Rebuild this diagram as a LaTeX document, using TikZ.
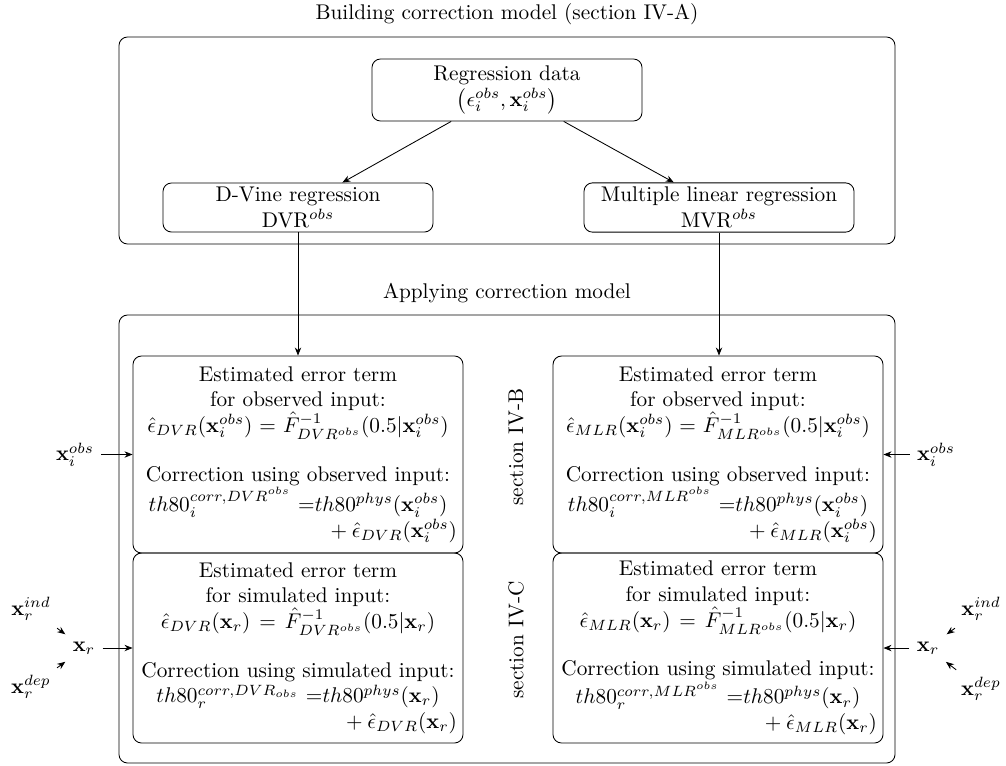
\documentclass[tikz,border=0pt]{standalone}
\usepackage{amsmath}
\usetikzlibrary{arrows.meta}
\newdimen\pxu
\pxu=0.47pt
\tikzset{
  frame/.style={draw, rounded corners=4pt},
  modelbox/.style={draw, rounded corners=4pt, align=center, minimum width={270*\pxu}, inner sep=2pt},
  stepbox/.style={draw, rounded corners=4pt, align=center, text width={318*\pxu}, inner xsep={6*\pxu}, inner ysep=2pt},
  obsbox/.style={stepbox, minimum height={197*\pxu}},
  simbox/.style={stepbox, minimum height={190*\pxu}},
  heading/.style={inner sep=0pt},
  seclabel/.style={rotate=90, inner sep=0pt},
  flow/.style={-{Stealth[length=3.8pt,width=3pt]}},
}
\begin{document}
\begin{tikzpicture}[x=0.47pt, y=-0.47pt]
\useasboundingbox (0,0) rectangle (1006,765);

% ---- building the correction model ----
\node[heading] (titleA) at (507,14) {Building correction model (section IV-A)};
\node[frame, minimum width={776*\pxu}, minimum height={207*\pxu}] (topframe) at (507,140.5) {};
\node[modelbox, minimum height={62*\pxu}] (reg) at (507,90) {Regression data\\ $\bigl(\epsilon_i^{obs}, \mathbf{x}_i^{obs}\bigr)$};
\node[modelbox] (dvr) at (298,207.5) {D-Vine regression\\ DVR$^{obs}$};
\node[modelbox] (mlr) at (719,207.5) {Multiple linear regression\\ MVR$^{obs}$};
\draw[flow] (reg) -- (dvr);
\draw[flow] (reg) -- (mlr);

% ---- applying the correction model ----
\node[heading] (titleB) at (507,293) {Applying correction model};
\node[frame, minimum width={776*\pxu}, minimum height={448*\pxu}] (botframe) at (507,539) {};

\node[obsbox] (obsL) at (298,454.5) {Estimated error term\\
for observed input:\\
$\hat{\epsilon}_{DVR}(\mathbf{x}_i^{obs}) = \hat{F}^{-1}_{DVR^{obs}}(0.5|\mathbf{x}_i^{obs})$\\[11pt]
Correction using observed input:\\
$th80_i^{corr,DVR^{obs}}$ ${=}th80^{phys}(\mathbf{x}_i^{obs})$\\
\hfill${}+\hat{\epsilon}_{DVR}(\mathbf{x}_i^{obs})$};

\node[simbox] (simL) at (298,648) {Estimated error term\\
for simulated input:\\
$\hat{\epsilon}_{DVR}(\mathbf{x}_r) = \hat{F}^{-1}_{DVR^{obs}}(0.5|\mathbf{x}_r)$\\[11pt]
Correction using simulated input:\\
$th80_r^{corr,DVR_{obs}}$ ${=}th80^{phys}(\mathbf{x}_r)$\\
\hfill${}+\hat{\epsilon}_{DVR}(\mathbf{x}_r)$};

\node[obsbox] (obsR) at (718,454.5) {Estimated error term\\
for observed input:\\
$\hat{\epsilon}_{MLR}(\mathbf{x}_i^{obs}) = \hat{F}^{-1}_{MLR^{obs}}(0.5|\mathbf{x}_i^{obs})$\\[11pt]
Correction using observed input:\\
$th80_i^{corr,MLR^{obs}}$ ${=}th80^{phys}(\mathbf{x}_i^{obs})$\\
\hfill${}+\hat{\epsilon}_{MLR}(\mathbf{x}_i^{obs})$};

\node[simbox] (simR) at (718,648) {Estimated error term\\
for simulated input:\\
$\hat{\epsilon}_{MLR}(\mathbf{x}_r) = \hat{F}^{-1}_{MLR^{obs}}(0.5|\mathbf{x}_r)$\\[11pt]
Correction using simulated input:\\
$th80_r^{corr,MLR^{obs}}$ ${=}th80^{phys}(\mathbf{x}_r)$\\
\hfill${}+\hat{\epsilon}_{MLR}(\mathbf{x}_r)$};

\node[seclabel] (secB) at (516,447) {section IV-B};
\node[seclabel] (secC) at (516,640) {section IV-C};

\draw[flow] (dvr.south) -- (dvr.south |- obsL.north);
\draw[flow] (mlr.south) -- (mlr.south |- obsR.north);

% ---- inputs, left ----
\node (xobsL) at (75,454.5) {$\mathbf{x}_i^{obs}$};
\node (xrL) at (84,648) {$\mathbf{x}_r$};
\node (indL) at (31,609) {$\mathbf{x}_r^{ind}$};
\node (depL) at (31,687) {$\mathbf{x}_r^{dep}$};
\draw[flow] (xobsL) -- (obsL);
\draw[flow] (xrL) -- (simL);
\draw[flow] (indL) -- (xrL);
\draw[flow] (depL) -- (xrL);

% ---- inputs, right ----
\node (xobsR) at (936,454.5) {$\mathbf{x}_i^{obs}$};
\node (xrR) at (928,648) {$\mathbf{x}_r$};
\node (indR) at (981,609) {$\mathbf{x}_r^{ind}$};
\node (depR) at (981,689) {$\mathbf{x}_r^{dep}$};
\draw[flow] (xobsR) -- (obsR);
\draw[flow] (xrR) -- (simR);
\draw[flow] (indR) -- (xrR);
\draw[flow] (depR) -- (xrR);
\end{tikzpicture}
\end{document}
